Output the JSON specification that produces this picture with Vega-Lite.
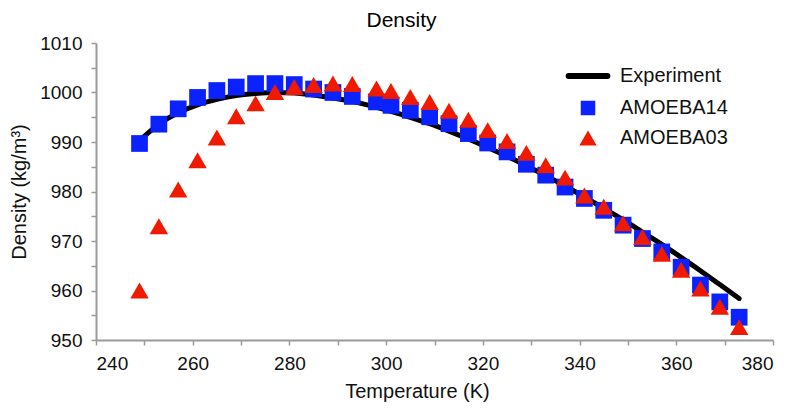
{
  "$schema": "https://vega.github.io/schema/vega-lite/v6.json",
  "autosize": "none",
  "width": 677,
  "height": 297,
  "padding": {"left": 96, "top": 43, "right": 27, "bottom": 77},
  "background": "white",
  "title": {"text": "Density", "fontSize": 21, "font": "Liberation Sans", "fontWeight": "normal", "color": "#000", "frame": "group", "anchor": "middle", "dx": -33, "offset": 3},
  "config": {
    "view": {"stroke": null},
    "font": "Liberation Sans",
    "axis": {"domainColor": "#9a9a9a", "domainWidth": 2, "tickColor": "#9a9a9a", "tickWidth": 1.5, "tickSize": 5, "grid": false, "labelFont": "Liberation Sans", "labelFontSize": 19, "labelColor": "#111", "titleFont": "Liberation Sans", "titleFontSize": 20, "titleFontWeight": "normal", "titleColor": "#111", "labelPadding": 9},
    "legend": {"labelFont": "Liberation Sans", "labelFontSize": 20, "labelColor": "#111"}
  },
  "datasets": {
    "experiment": [
      {"T": 249, "D": 990.3}, {"T": 253, "D": 993.6}, {"T": 257, "D": 995.9}, {"T": 261, "D": 997.5},
      {"T": 265, "D": 998.6}, {"T": 269, "D": 999.4}, {"T": 273, "D": 999.8}, {"T": 277, "D": 1000.0},
      {"T": 281, "D": 999.9}, {"T": 285, "D": 999.5}, {"T": 289, "D": 998.9}, {"T": 293, "D": 998.2},
      {"T": 298, "D": 997.0}, {"T": 301, "D": 996.2}, {"T": 305, "D": 995.0}, {"T": 309, "D": 993.7},
      {"T": 313, "D": 992.2}, {"T": 317, "D": 990.6}, {"T": 321, "D": 988.9}, {"T": 325, "D": 987.1},
      {"T": 329, "D": 985.2}, {"T": 333, "D": 983.2}, {"T": 337, "D": 981.1}, {"T": 341, "D": 978.9},
      {"T": 345, "D": 976.6}, {"T": 349, "D": 974.3}, {"T": 353, "D": 971.8}, {"T": 357, "D": 969.3},
      {"T": 361, "D": 966.7}, {"T": 365, "D": 964.0}, {"T": 369, "D": 961.2}, {"T": 373, "D": 958.4}
    ],
    "sim": [
      {"model": "AMOEBA14", "T": 249, "D": 989.7}, {"model": "AMOEBA14", "T": 253, "D": 993.6},
      {"model": "AMOEBA14", "T": 257, "D": 996.7}, {"model": "AMOEBA14", "T": 261, "D": 999.0},
      {"model": "AMOEBA14", "T": 265, "D": 1000.4}, {"model": "AMOEBA14", "T": 269, "D": 1001.1},
      {"model": "AMOEBA14", "T": 273, "D": 1001.8}, {"model": "AMOEBA14", "T": 277, "D": 1001.8},
      {"model": "AMOEBA14", "T": 281, "D": 1001.6}, {"model": "AMOEBA14", "T": 285, "D": 1000.7},
      {"model": "AMOEBA14", "T": 289, "D": 1000.0}, {"model": "AMOEBA14", "T": 293, "D": 999.2},
      {"model": "AMOEBA14", "T": 298, "D": 998.1}, {"model": "AMOEBA14", "T": 301, "D": 997.4},
      {"model": "AMOEBA14", "T": 305, "D": 996.4}, {"model": "AMOEBA14", "T": 309, "D": 995.1},
      {"model": "AMOEBA14", "T": 313, "D": 993.7}, {"model": "AMOEBA14", "T": 317, "D": 991.7},
      {"model": "AMOEBA14", "T": 321, "D": 989.8}, {"model": "AMOEBA14", "T": 325, "D": 988.0},
      {"model": "AMOEBA14", "T": 329, "D": 985.5}, {"model": "AMOEBA14", "T": 333, "D": 983.3},
      {"model": "AMOEBA14", "T": 337, "D": 980.9}, {"model": "AMOEBA14", "T": 341, "D": 978.6},
      {"model": "AMOEBA14", "T": 345, "D": 976.2}, {"model": "AMOEBA14", "T": 349, "D": 973.2},
      {"model": "AMOEBA14", "T": 353, "D": 970.5}, {"model": "AMOEBA14", "T": 357, "D": 967.8},
      {"model": "AMOEBA14", "T": 361, "D": 964.7}, {"model": "AMOEBA14", "T": 365, "D": 961.1},
      {"model": "AMOEBA14", "T": 369, "D": 957.7}, {"model": "AMOEBA14", "T": 373, "D": 954.6},
      {"model": "AMOEBA03", "T": 249, "D": 960.0}, {"model": "AMOEBA03", "T": 253, "D": 973.0},
      {"model": "AMOEBA03", "T": 257, "D": 980.4}, {"model": "AMOEBA03", "T": 261, "D": 986.3},
      {"model": "AMOEBA03", "T": 265, "D": 990.9}, {"model": "AMOEBA03", "T": 269, "D": 995.2},
      {"model": "AMOEBA03", "T": 273, "D": 997.8}, {"model": "AMOEBA03", "T": 277, "D": 1000.1},
      {"model": "AMOEBA03", "T": 281, "D": 1001.1}, {"model": "AMOEBA03", "T": 285, "D": 1001.5},
      {"model": "AMOEBA03", "T": 289, "D": 1001.8}, {"model": "AMOEBA03", "T": 293, "D": 1001.7},
      {"model": "AMOEBA03", "T": 298, "D": 1000.8}, {"model": "AMOEBA03", "T": 301, "D": 1000.3},
      {"model": "AMOEBA03", "T": 305, "D": 999.1}, {"model": "AMOEBA03", "T": 309, "D": 998.1},
      {"model": "AMOEBA03", "T": 313, "D": 996.3}, {"model": "AMOEBA03", "T": 317, "D": 994.5},
      {"model": "AMOEBA03", "T": 321, "D": 992.4}, {"model": "AMOEBA03", "T": 325, "D": 990.2},
      {"model": "AMOEBA03", "T": 329, "D": 987.8}, {"model": "AMOEBA03", "T": 333, "D": 985.3},
      {"model": "AMOEBA03", "T": 337, "D": 982.8}, {"model": "AMOEBA03", "T": 341, "D": 979.2},
      {"model": "AMOEBA03", "T": 345, "D": 976.9}, {"model": "AMOEBA03", "T": 349, "D": 973.6},
      {"model": "AMOEBA03", "T": 353, "D": 970.8}, {"model": "AMOEBA03", "T": 357, "D": 967.4},
      {"model": "AMOEBA03", "T": 361, "D": 964.2}, {"model": "AMOEBA03", "T": 365, "D": 960.4},
      {"model": "AMOEBA03", "T": 369, "D": 956.7}, {"model": "AMOEBA03", "T": 373, "D": 952.6}
    ]
  },
  "encoding": {
    "x": {"field": "T", "type": "quantitative", "scale": {"domain": [240, 380], "nice": false, "zero": false},
      "axis": {"title": "Temperature (K)", "values": [240,250,260,270,280,290,300,310,320,330,340,350,360,370,380], "labelExpr": "datum.value % 20 === 0 ? datum.label : ''", "titlePadding": 8, "titleX": 321,
        "encode": {"ticks": {"update": {"y": {"signal": "datum.value % 20 === 0 ? -5 : -3.5"}, "y2": {"signal": "datum.value % 20 === 0 ? 5 : 3.5"}}}}}},
    "y": {"field": "D", "type": "quantitative", "scale": {"domain": [950, 1010], "nice": false, "zero": false},
      "axis": {"title": "Density (kg/m³)", "format": "d", "values": [950,955,960,965,970,975,980,985,990,995,1000,1005,1010], "labelExpr": "datum.value % 10 === 0 ? datum.label : ''", "titlePadding": 10,
        "encode": {"ticks": {"update": {"x": {"signal": "datum.value % 10 === 0 ? 5 : 3.5"}, "x2": {"signal": "datum.value % 10 === 0 ? -5 : -3.5"}}}}}},
    "color": {"field": "model", "type": "nominal",
      "scale": {"domain": ["Experiment", "AMOEBA14", "AMOEBA03"], "range": ["#000000", "#0a22ff", "#f01a00"]},
      "legend": {"title": null, "orient": "none", "legendX": 482, "legendY": 23, "labelOffset": 22, "rowPadding": 10, "symbolSize": 289,
        "encode": {"symbols": {"update": {
          "shape": {"signal": "datum.value === 'Experiment' ? 'stroke' : datum.value === 'AMOEBA14' ? 'square' : 'triangle-up'"},
          "size": {"signal": "datum.value === 'Experiment' ? 1500 : datum.value === 'AMOEBA14' ? 210 : 300"},
          "strokeWidth": {"signal": "datum.value === 'Experiment' ? 6 : 0"},
          "strokeCap": {"value": "round"},
          "stroke": {"signal": "datum.value === 'Experiment' ? '#000000' : 'transparent'"},
          "fill": {"signal": "datum.value === 'Experiment' ? '#000000' : datum.value === 'AMOEBA14' ? '#0a22ff' : '#f01a00'"},
          "opacity": {"value": 1}
        }}}}}
  },
  "layer": [
    {
      "data": {"name": "experiment"},
      "transform": [{"calculate": "'Experiment'", "as": "model"}],
      "mark": {"type": "line", "strokeWidth": 5, "strokeCap": "round", "interpolate": "monotone"}
    },
    {
      "data": {"name": "sim"},
      "mark": {"type": "point", "filled": true, "opacity": 1},
      "encoding": {
        "shape": {"field": "model", "type": "nominal",
          "scale": {"domain": ["AMOEBA14", "AMOEBA03"], "range": ["square", "triangle-up"]}, "legend": null},
        "size": {"field": "model", "type": "nominal",
          "scale": {"domain": ["AMOEBA14", "AMOEBA03"], "range": [280, 340]}, "legend": null}
      }
    }
  ]
}
